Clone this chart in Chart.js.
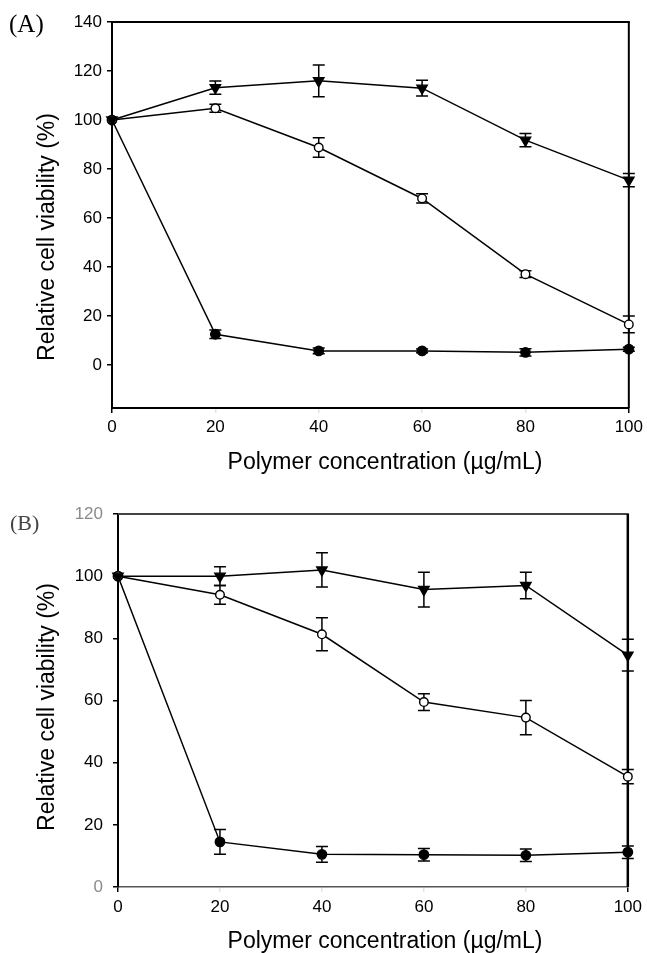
<!DOCTYPE html>
<html>
<head>
<meta charset="utf-8">
<script src="https://cdn.jsdelivr.net/npm/chart.js@4.4.1/dist/chart.umd.min.js"></script>
<style>
  html, body { margin: 0; padding: 0; background: #fff; }
  #wrap { position: relative; width: 647px; height: 953px; }
  canvas { position: absolute; left: 0; }
  #chartA { top: 0; }
  #chartB { top: 480px; }
</style>
</head>
<body>
<div id="wrap">
  <canvas id="chartA" width="647" height="480"></canvas>
  <canvas id="chartB" width="647" height="473"></canvas>
</div>
<script>
// polymer concentration (ug/mL)
const concentrations = [0, 20, 40, 60, 80, 100];
const xTicks = [0, 20, 40, 60, 80, 100];

// panel A
const aTriangle    = [100, 113.2, 116, 113, 91.8, 75.5];
const aTriangleErr = [0, 2.7, 6.5, 3.2, 2.7, 2.7];
const aOpen        = [100, 104.8, 88.8, 68, 37.1, 16.6];
const aOpenErr     = [0, 1.6, 4, 1.9, 1.4, 3.4];
const aFilled      = [100, 12.6, 5.8, 5.8, 5.2, 6.5];
const aFilledErr   = [0, 1.7, 1.2, 0.8, 1.5, 0.8];
const aYTicks = [0, 20, 40, 60, 80, 100, 120, 140];

// panel B
const bTriangle    = [100, 100, 102, 95.7, 97, 74.6];
const bTriangleErr = [0, 3, 5.5, 5.6, 4.3, 5.1];
const bOpen        = [100, 94, 81.3, 59.5, 54.5, 35.5];
const bOpenErr     = [0, 3, 5.3, 2.7, 5.5, 2.3];
const bFilled      = [100, 14.5, 10.5, 10.4, 10.2, 11.2];
const bFilledErr   = [0, 4, 2.5, 2, 2, 2];
const bYTicks = [0, 20, 40, 60, 80, 100, 120];

const xTitle = 'Polymer concentration (µg/mL)';
const yTitle = 'Relative cell viability (%)';
const SANS = '"Liberation Sans", Arial, sans-serif';

// vertical error bars with caps
const errorBars = {
  id: 'errorBars',
  beforeDatasetsDraw(chart) {
    const { ctx, scales: { x, y } } = chart;
    ctx.save();
    ctx.strokeStyle = '#000';
    ctx.lineWidth = 1.5;
    chart.data.datasets.forEach(ds => {
      ds.data.forEach((p, i) => {
        const e = ds.errors[i];
        if (!e) return;
        const px = x.getPixelForValue(p.x);
        const top = y.getPixelForValue(p.y + e);
        const bot = y.getPixelForValue(p.y - e);
        ctx.beginPath();
        ctx.moveTo(px, top); ctx.lineTo(px, bot);
        ctx.moveTo(px - 6, top); ctx.lineTo(px + 6, top);
        ctx.moveTo(px - 6, bot); ctx.lineTo(px + 6, bot);
        ctx.stroke();
      });
    });
    ctx.restore();
  }
};

// top and right side of the box
const frame = {
  id: 'frame',
  beforeDatasetsDraw(chart, args, o) {
    const { ctx, chartArea: a } = chart;
    ctx.save();
    ctx.lineWidth = o.topWidth;
    ctx.strokeStyle = o.topColor;
    ctx.beginPath(); ctx.moveTo(a.left, a.top); ctx.lineTo(a.right + 1, a.top); ctx.stroke();
    ctx.lineWidth = o.rightWidth;
    ctx.strokeStyle = o.rightColor;
    ctx.beginPath(); ctx.moveTo(a.right, a.top); ctx.lineTo(a.right, a.bottom); ctx.stroke();
    ctx.restore();
  }
};

// panel letter and axis titles
const panelText = {
  id: 'panelText',
  afterDraw(chart, args, o) {
    const ctx = chart.ctx;
    ctx.save();
    ctx.fillStyle = o.labelColor;
    ctx.font = o.labelSize + 'px "Liberation Serif", "Times New Roman", serif';
    ctx.textAlign = 'left';
    ctx.textBaseline = 'middle';
    ctx.fillText(o.label, o.labelX, o.labelY);
    ctx.fillStyle = '#000';
    ctx.font = '23px ' + SANS;
    ctx.textAlign = 'center';
    ctx.textBaseline = 'alphabetic';
    ctx.fillText(xTitle, o.xTitleX, o.xTitleY);
    ctx.translate(o.yTitleX, o.yTitleY);
    ctx.rotate(-Math.PI / 2);
    ctx.fillText(yTitle, 0, 0);
    ctx.restore();
  }
};

function series(values, errors, style) {
  return Object.assign({
    data: concentrations.map((c, i) => ({ x: c, y: values[i] })),
    errors: errors,
    borderColor: '#000',
    borderWidth: 1.5,
    pointBorderColor: '#000',
    pointBorderWidth: 1.4,
    tension: 0,
    clip: false
  }, style);
}

const triangleStyle = { pointStyle: 'triangle', pointRotation: 180, pointRadius: 6, pointBackgroundColor: '#000' };
const openStyle = { pointStyle: 'circle', pointRadius: 4.3, pointBackgroundColor: '#fff' };
const filledStyle = { pointStyle: 'circle', pointRadius: 4.7, pointBackgroundColor: '#000' };

function makePanel(id, sets, cfg) {
  return new Chart(document.getElementById(id), {
    type: 'line',
    data: { datasets: sets },
    plugins: [errorBars, frame, panelText],
    options: {
      responsive: false,
      animation: false,
      devicePixelRatio: 1,
      layout: { padding: cfg.padding },
      plugins: {
        legend: { display: false },
        tooltip: { enabled: false },
        frame: cfg.frame,
        panelText: cfg.text
      },
      scales: {
        x: {
          type: 'linear',
          min: 0,
          max: 100,
          afterBuildTicks: axis => { axis.ticks = xTicks.map(v => ({ value: v })); },
          afterFit: axis => { axis.height = cfg.xHeight; },
          grid: {
            drawOnChartArea: false,
            tickLength: 5,
            lineWidth: 1.5,
            color: c => (c.index === 0 || c.index === xTicks.length - 1) ? '#000' : '#e4e4e4'
          },
          border: { color: cfg.bottomColor, width: cfg.bottomWidth },
          ticks: { color: '#000', font: { family: SANS, size: 17 }, padding: cfg.xPad, maxRotation: 0 }
        },
        y: {
          type: 'linear',
          min: cfg.yMin,
          max: cfg.yMax,
          afterBuildTicks: axis => { axis.ticks = cfg.yTicks.map(v => ({ value: v })); },
          afterFit: axis => { axis.width = cfg.yWidth; },
          grid: { drawOnChartArea: false, tickLength: 5, lineWidth: 1.5, color: '#000' },
          border: { color: '#000', width: 2 },
          ticks: { color: cfg.yTickColor, font: { family: SANS, size: 17 }, padding: cfg.yPad }
        }
      }
    }
  });
}

makePanel('chartA', [
  series(aTriangle, aTriangleErr, triangleStyle),
  series(aOpen, aOpenErr, openStyle),
  series(aFilled, aFilledErr, filledStyle)
], {
  padding: { left: 0, top: 22, right: 14, bottom: 0 },
  yMin: -17.5, yMax: 140, yTicks: aYTicks,
  yWidth: 112, xHeight: 72, xPad: 4, yPad: 5,
  bottomColor: '#000', bottomWidth: 2,
  yTickColor: '#000',
  frame: { topColor: '#000', topWidth: 2, rightColor: '#000', rightWidth: 2 },
  text: { label: '(A)', labelColor: '#000', labelSize: 25, labelX: 9, labelY: 25,
          xTitleX: 385, xTitleY: 469, yTitleX: 54, yTitleY: 237 }
});

makePanel('chartB', [
  series(bTriangle, bTriangleErr, triangleStyle),
  series(bOpen, bOpenErr, openStyle),
  series(bFilled, bFilledErr, filledStyle)
], {
  padding: { left: 0, top: 34, right: 16, bottom: 0 },
  yMin: 0, yMax: 120, yTicks: bYTicks,
  yWidth: 118, xHeight: 66, xPad: 5, yPad: 10,
  bottomColor: '#555', bottomWidth: 1.5,
  yTickColor: c => (c.tick.value === 0 || c.tick.value === 120) ? '#8a8a8a' : '#000',
  frame: { topColor: '#444', topWidth: 2, rightColor: '#000', rightWidth: 2.5 },
  text: { label: '(B)', labelColor: '#444', labelSize: 22, labelX: 10, labelY: 44,
          xTitleX: 385, xTitleY: 468, yTitleX: 54, yTitleY: 227 }
});
</script>
</body>
</html>
